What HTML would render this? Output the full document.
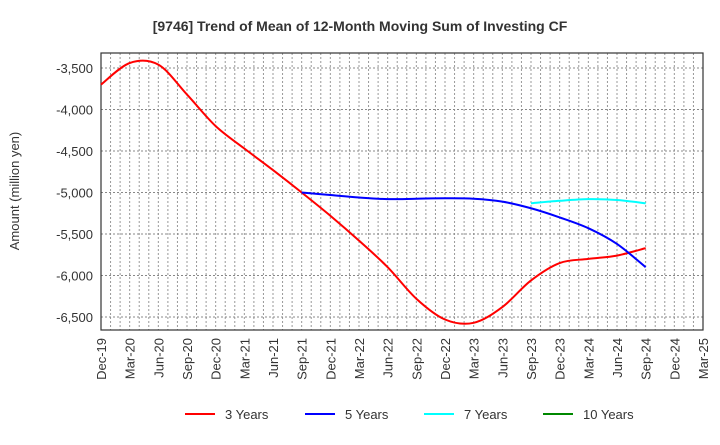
<!DOCTYPE html>
<html><head><meta charset="utf-8"><style>
body{margin:0;background:#fff;font-family:"Liberation Sans",sans-serif}
</style></head><body>
<svg id="c" width="720" height="440" xmlns="http://www.w3.org/2000/svg" font-family="Liberation Sans, sans-serif"></svg>
<script>
const xLabels=["Dec-19","Mar-20","Jun-20","Sep-20","Dec-20","Mar-21","Jun-21","Sep-21","Dec-21","Mar-22","Jun-22","Sep-22","Dec-22","Mar-23","Jun-23","Sep-23","Dec-23","Mar-24","Jun-24","Sep-24","Dec-24","Mar-25"];
const yTicks=[-3500,-4000,-4500,-5000,-5500,-6000,-6500];
const s3=[-3700,-3440,-3460,-3820,-4200,-4470,-4730,-5000,-5280,-5580,-5900,-6280,-6530,-6570,-6380,-6060,-5850,-5800,-5760,-5670];
const s5=[-5000,-5030,-5060,-5080,-5075,-5070,-5075,-5110,-5190,-5300,-5430,-5620,-5900];
const s7=[-5130,-5100,-5080,-5090,-5130];
const s10=[];
const ns="http://www.w3.org/2000/svg",svg=document.getElementById('c');
const L=101,R=703,T=53,B=330;
const X=q=>L+q*(R-L)/21;
const Y=v=>68+(v+3500)*(-(317-68)/3000);
function el(t,a,p){const e=document.createElementNS(ns,t);for(const k in a)e.setAttribute(k,a[k]);(p||svg).appendChild(e);return e;}
const title=el('text',{x:360,y:31,'text-anchor':'middle','font-size':14,'font-weight':'bold',fill:'#333'});
title.textContent="[9746]  Trend of Mean of 12-Month Moving Sum of Investing CF";


for(let m=1;m<63;m++){const x=L+m*(R-L)/63;
const g=el('line',{x1:x,x2:x,y1:T,y2:B,stroke:'#999','stroke-dasharray':'2,2','stroke-width':1});

}
yTicks.forEach(v=>{const y=Y(v);
const g=el('line',{x1:L,x2:R,y1:y,y2:y,stroke:'#888','stroke-dasharray':'2,2'});


const t=el('text',{x:93,y:y+5,'text-anchor':'end','font-size':13,fill:'#333'});
t.textContent=v.toLocaleString('en-US');

});
xLabels.forEach((s,i)=>{const x=X(i);
const t=el('text',{transform:`translate(${x+5},338) rotate(-90)`,'text-anchor':'end','font-size':13,fill:'#333'});
t.textContent=s;

});
const fr=el('rect',{x:L,y:T,width:R-L,height:B-T,fill:'none',stroke:'#333','stroke-width':1.2});


const yt=el('text',{transform:'translate(19,191) rotate(-90)','text-anchor':'middle','font-size':13,fill:'#333'});
yt.textContent="Amount (million yen)";


function path(vals,start,color,name){if(!vals.length)return;
const p=vals.map((v,i)=>[X(start+i),Y(v)]);let d=`M${p[0][0]},${p[0][1]}`;
for(let i=0;i<p.length-1;i++){const p0=p[i-1]||p[i],p1=p[i],p2=p[i+1],p3=p[i+2]||p2;
d+=` C${p1[0]+(p2[0]-p0[0])/6},${p1[1]+(p2[1]-p0[1])/6} ${p2[0]-(p3[0]-p1[0])/6},${p2[1]-(p3[1]-p1[1])/6} ${p2[0]},${p2[1]}`;}
const e=el('path',{d,fill:'none',stroke:color,'stroke-width':2});

}
path(s3,0,'#f00','line-3-years');
path(s5,7,'#00f','line-5-years');
path(s7,15,'#0ff','line-7-years');
path(s10,0,'#080','line-10-years');
[["3 Years","#f00",185],["5 Years","#00f",305],["7 Years","#0ff",424],["10 Years","#080",543]].forEach(([n,c,x])=>{
const g=el('g',{});


el('line',{x1:x,x2:x+30,y1:414,y2:414,stroke:c,'stroke-width':2},g);
const t=el('text',{x:x+40,y:419,'font-size':13,fill:'#333'},g);t.textContent=n;});
</script>
</body></html>
